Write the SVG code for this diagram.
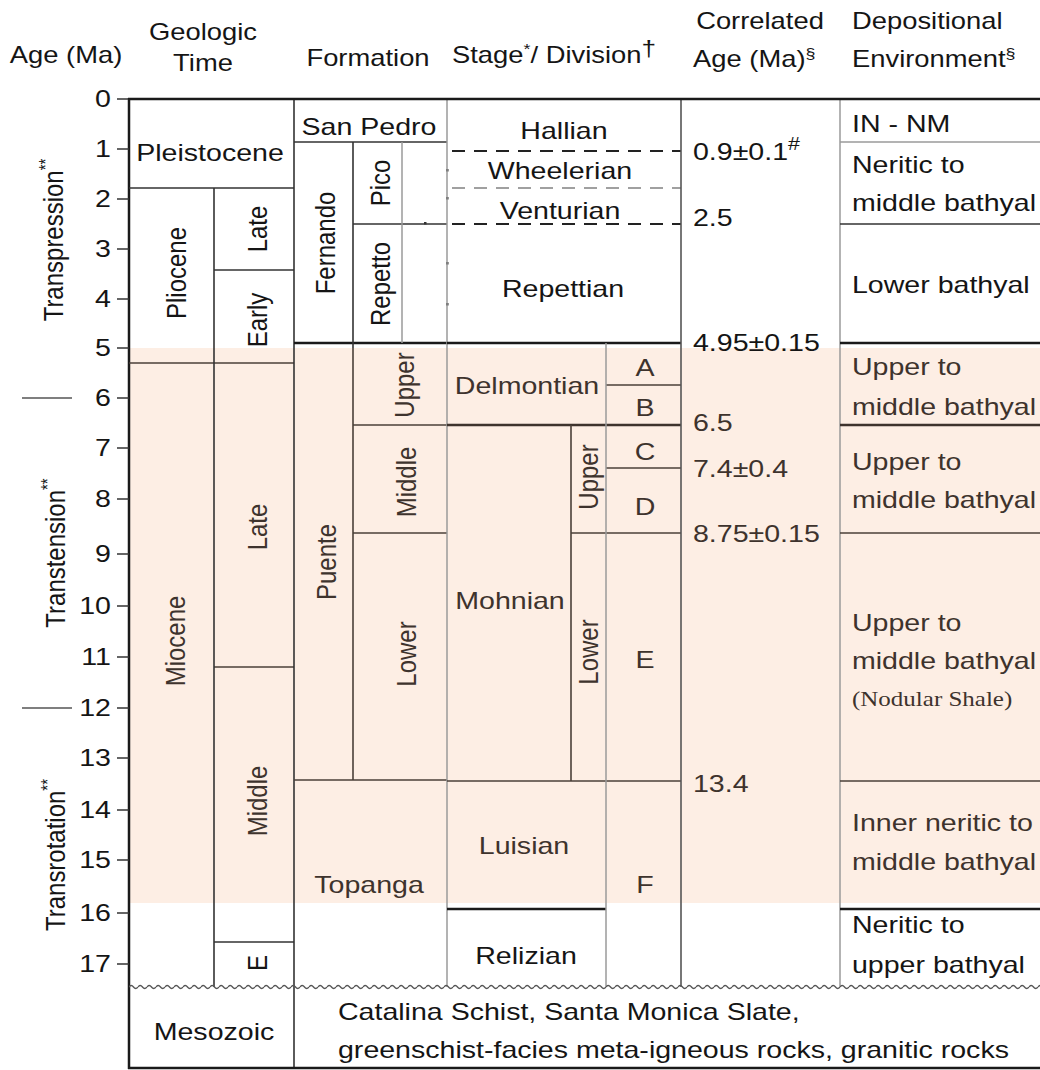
<svg xmlns="http://www.w3.org/2000/svg" width="1040" height="1070" viewBox="0 0 1040 1070">
<defs>
<style>
text{font-family:"Liberation Sans",Arial,sans-serif;font-size:24px;fill:#151515}
text.p{fill:#3e332d}
.m{text-anchor:middle}
.e{text-anchor:end}
.h{font-size:23px}
.sup{font-size:15px}
.serif{font-family:"Liberation Serif","Times New Roman",serif;font-size:21px}
.k{stroke:#1a1a1a;stroke-width:2.5;fill:none}
.kp{stroke:#3e332d;stroke-width:2.5;fill:none}
.n{stroke:#333;stroke-width:1.6;fill:none}
.np{stroke:#4a3f38;stroke-width:1.6;fill:none}
.g{stroke:#9a9a9a;stroke-width:1.5;fill:none}
.dk{stroke:#222;stroke-width:2;stroke-dasharray:13 9;fill:none}
.dg{stroke:#a0a0a0;stroke-width:2;stroke-dasharray:13 9;fill:none}
.tick{stroke:#333;stroke-width:1.5}
</style>
<pattern id="wave" patternUnits="userSpaceOnUse" x="129" y="983" width="9" height="8">
<path d="M0 4 Q2.25 1 4.5 4 T9 4" stroke="#555" stroke-width="1.3" fill="none"/>
</pattern>
</defs>
<rect width="1040" height="1070" fill="#fff"/>
<rect id="miocene-shading" x="129" y="348" width="911" height="555" fill="#fdeee4"/>

<g id="headers">
<text class="h m" transform="matrix(1.19 0 0 1 66 63)">Age (Ma)</text>
<text class="h m" transform="matrix(1.19 0 0 1 203 40)">Geologic</text>
<text class="h m" transform="matrix(1.19 0 0 1 203 71)">Time</text>
<text class="h m" transform="matrix(1.19 0 0 1 368 66)">Formation</text>
<text class="h" transform="matrix(1.19 0 0 1 452 63)">Stage<tspan class="sup" dy="-9">*</tspan><tspan dy="9">/ Division</tspan><tspan font-size="22" dy="-7">†</tspan></text>
<text class="h m" transform="matrix(1.19 0 0 1 760 29)">Correlated</text>
<text class="h" transform="matrix(1.19 0 0 1 693 67)">Age (Ma)<tspan class="sup" dy="-8">§</tspan></text>
<text class="h" transform="matrix(1.19 0 0 1 852 29)">Depositional</text>
<text class="h" transform="matrix(1.19 0 0 1 852 67)">Environment<tspan class="sup" dy="-8">§</tspan></text>
</g>

<g id="axis">
<line class="k" x1="129" y1="98" x2="129" y2="1069"/>
<g class="tick">
<line x1="117" y1="99" x2="129" y2="99"/><line x1="117" y1="149" x2="129" y2="149"/>
<line x1="117" y1="199" x2="129" y2="199"/><line x1="117" y1="249" x2="129" y2="249"/>
<line x1="117" y1="299" x2="129" y2="299"/><line x1="117" y1="348" x2="129" y2="348"/>
<line x1="117" y1="398" x2="129" y2="398"/><line x1="117" y1="448" x2="129" y2="448"/>
<line x1="117" y1="499" x2="129" y2="499"/><line x1="117" y1="554" x2="129" y2="554"/>
<line x1="117" y1="606" x2="129" y2="606"/><line x1="117" y1="657" x2="129" y2="657"/>
<line x1="117" y1="708" x2="129" y2="708"/><line x1="117" y1="758" x2="129" y2="758"/>
<line x1="117" y1="810" x2="129" y2="810"/><line x1="117" y1="860" x2="129" y2="860"/>
<line x1="117" y1="913" x2="129" y2="913"/><line x1="117" y1="964" x2="129" y2="964"/>
</g>
<text class="e" transform="matrix(1.19 0 0 1 111 107)">0</text>
<text class="e" transform="matrix(1.19 0 0 1 111 157)">1</text>
<text class="e" transform="matrix(1.19 0 0 1 111 207)">2</text>
<text class="e" transform="matrix(1.19 0 0 1 111 257)">3</text>
<text class="e" transform="matrix(1.19 0 0 1 111 307)">4</text>
<text class="e" transform="matrix(1.19 0 0 1 111 356)">5</text>
<text class="e" transform="matrix(1.19 0 0 1 111 406)">6</text>
<text class="e" transform="matrix(1.19 0 0 1 111 456)">7</text>
<text class="e" transform="matrix(1.19 0 0 1 111 507)">8</text>
<text class="e" transform="matrix(1.19 0 0 1 111 562)">9</text>
<text class="e" transform="matrix(1.19 0 0 1 111 614)">10</text>
<text class="e" transform="matrix(1.19 0 0 1 111 665)">11</text>
<text class="e" transform="matrix(1.19 0 0 1 111 716)">12</text>
<text class="e" transform="matrix(1.19 0 0 1 111 766)">13</text>
<text class="e" transform="matrix(1.19 0 0 1 111 818)">14</text>
<text class="e" transform="matrix(1.19 0 0 1 111 868)">15</text>
<text class="e" transform="matrix(1.19 0 0 1 111 921)">16</text>
<text class="e" transform="matrix(1.19 0 0 1 111 972)">17</text>
</g>

<g id="tectonics">
<text class="m" transform="matrix(0 -1 1.19 0 53 240)" y="8.5">Transpression<tspan class="sup" dy="-9">**</tspan></text>
<line x1="22" y1="398" x2="72" y2="398" stroke="#555" stroke-width="1.5"/>
<text class="m" transform="matrix(0 -1 1.19 0 55 553)" y="8.5">Transtension<tspan class="sup" dy="-9">**</tspan></text>
<line x1="22" y1="708" x2="72" y2="708" stroke="#555" stroke-width="1.5"/>
<text class="m" transform="matrix(0 -1 1.19 0 55 855)" y="8.5">Transrotation<tspan class="sup" dy="-9">**</tspan></text>
</g>

<g id="geologic-time">
<line class="n" x1="129" y1="188" x2="294" y2="188"/>
<line class="n" x1="214" y1="270" x2="294" y2="270"/>
<line class="np" x1="129" y1="363" x2="294" y2="363"/>
<line class="np" x1="214" y1="667" x2="294" y2="667"/>
<line class="n" x1="214" y1="942" x2="294" y2="942"/>
<line class="n" x1="214" y1="188" x2="214" y2="987"/>
<line class="n" x1="294" y1="99" x2="294" y2="1068"/>
<text class="m" transform="matrix(1.19 0 0 1 210 161)">Pleistocene</text>
<text class="m" transform="matrix(0 -1 1.19 0 176 273)" y="8.5">Pliocene</text>
<text class="m" transform="matrix(0 -1 1.19 0 257 229)" y="8.5">Late</text>
<text class="m" transform="matrix(0 -1 1.19 0 257 320)" y="8.5">Early</text>
<text class="m p" transform="matrix(0 -1 1.19 0 175 641)" y="8.5">Miocene</text>
<text class="m p" transform="matrix(0 -1 1.19 0 257 527)" y="8.5">Late</text>
<text class="m p" transform="matrix(0 -1 1.19 0 257 801)" y="8.5">Middle</text>
<text class="m" transform="matrix(0 -1 1.19 0 257 963)" y="8.5">E</text>
<text class="m" transform="matrix(1.19 0 0 1 214 1040)">Mesozoic</text>
</g>

<g id="formation">
<line class="n" x1="294" y1="142" x2="447" y2="142"/>
<line class="n" x1="353" y1="224" x2="447" y2="224"/>
<line class="k" x1="294" y1="343" x2="447" y2="343"/>
<line class="np" x1="353" y1="425" x2="447" y2="425"/>
<line class="np" x1="353" y1="533" x2="447" y2="533"/>
<line class="np" x1="294" y1="780" x2="447" y2="780"/>
<line class="n" x1="353" y1="142" x2="353" y2="348"/>
<line class="np" x1="353" y1="348" x2="353" y2="780"/>
<line class="g" x1="402" y1="142" x2="402" y2="343"/>
<g fill="#333"><rect x="446" y="169" width="2.5" height="2.5"/><rect x="446" y="197" width="2.5" height="2.5"/><rect x="424" y="222" width="2.5" height="2.5"/><rect x="446" y="262" width="2.5" height="2.5"/><rect x="446" y="303" width="2.5" height="2.5"/></g>
<text class="m" transform="matrix(1.19 0 0 1 369 135)">San Pedro</text>
<text class="m" transform="matrix(0 -1 1.19 0 325 243)" y="8.5">Fernando</text>
<text class="m" transform="matrix(0 -1 1.19 0 380 183)" y="8.5">Pico</text>
<text class="m" transform="matrix(0 -1 1.19 0 380 284)" y="8.5">Repetto</text>
<text class="m p" transform="matrix(0 -1 1.19 0 326 562)" y="8.5">Puente</text>
<text class="m p" transform="matrix(0 -1 1.19 0 404 385)" y="8.5">Upper</text>
<text class="m p" transform="matrix(0 -1 1.19 0 406 482)" y="8.5">Middle</text>
<text class="m p" transform="matrix(0 -1 1.19 0 406 654)" y="8.5">Lower</text>
<text class="m p" transform="matrix(1.19 0 0 1 369 893)">Topanga</text>
</g>

<g id="stage">
<line class="g" x1="447" y1="99" x2="447" y2="987"/>
<line class="dk" x1="452" y1="151" x2="681" y2="151"/>
<line class="dg" x1="452" y1="188" x2="681" y2="188"/>
<line class="dk" x1="452" y1="224" x2="681" y2="224"/>
<line class="k" x1="447" y1="343" x2="681" y2="343"/>
<line class="np" x1="606" y1="385" x2="681" y2="385"/>
<line class="kp" x1="447" y1="425" x2="681" y2="425"/>
<line class="np" x1="606" y1="468" x2="681" y2="468"/>
<line class="np" x1="571" y1="533" x2="681" y2="533"/>
<line class="np" x1="447" y1="781" x2="681" y2="781"/>
<line class="k" x1="447" y1="909" x2="606" y2="909"/>
<line class="g" x1="606" y1="343" x2="606" y2="987"/>
<line class="np" x1="571" y1="425" x2="571" y2="781"/>
<text class="m" transform="matrix(1.19 0 0 1 564 139)">Hallian</text>
<text class="m" transform="matrix(1.19 0 0 1 560 179)">Wheelerian</text>
<text class="m" transform="matrix(1.19 0 0 1 560 219)">Venturian</text>
<text class="m" transform="matrix(1.19 0 0 1 563 297)">Repettian</text>
<text class="m p" transform="matrix(1.19 0 0 1 527 394)">Delmontian</text>
<text class="m p" transform="matrix(1.19 0 0 1 645 376)">A</text>
<text class="m p" transform="matrix(1.19 0 0 1 645 416)">B</text>
<text class="m p" transform="matrix(1.19 0 0 1 645 460)">C</text>
<text class="m p" transform="matrix(1.19 0 0 1 645 515)">D</text>
<text class="m p" transform="matrix(1.19 0 0 1 645 668)">E</text>
<text class="m p" transform="matrix(1.19 0 0 1 645 893)">F</text>
<text class="m p" transform="matrix(0 -1 1.19 0 588 477)" y="8.5">Upper</text>
<text class="m p" transform="matrix(0 -1 1.19 0 588 652)" y="8.5">Lower</text>
<text class="m p" transform="matrix(1.19 0 0 1 510 609)">Mohnian</text>
<text class="m p" transform="matrix(1.19 0 0 1 524 854)">Luisian</text>
<text class="m" transform="matrix(1.19 0 0 1 526 964)">Relizian</text>
</g>

<g id="correlated-age">
<line x1="681" y1="99" x2="681" y2="987" stroke="#555" stroke-width="1.6"/>
<text transform="matrix(1.19 0 0 1 693 160)">0.9±0.1<tspan font-size="18" dy="-10">#</tspan></text>
<text transform="matrix(1.19 0 0 1 693 226)">2.5</text>
<text transform="matrix(1.19 0 0 1 693 351)">4.95±0.15</text>
<text class="p" transform="matrix(1.19 0 0 1 693 431)">6.5</text>
<text class="p" transform="matrix(1.19 0 0 1 693 477)">7.4±0.4</text>
<text class="p" transform="matrix(1.19 0 0 1 693 542)">8.75±0.15</text>
<text class="p" transform="matrix(1.19 0 0 1 693 792)">13.4</text>
</g>

<g id="depositional-environment">
<line class="g" x1="840" y1="99" x2="840" y2="987"/>
<line class="g" x1="840" y1="142" x2="1040" y2="142"/>
<line class="n" x1="840" y1="224" x2="1040" y2="224"/>
<line class="k" x1="840" y1="343" x2="1040" y2="343"/>
<line class="kp" x1="840" y1="425" x2="1040" y2="425"/>
<line class="np" x1="840" y1="533" x2="1040" y2="533"/>
<line class="np" x1="840" y1="781" x2="1040" y2="781"/>
<line class="k" x1="840" y1="909" x2="1040" y2="909"/>
<text transform="matrix(1.19 0 0 1 852 132)">IN - NM</text>
<text transform="matrix(1.19 0 0 1 852 173)">Neritic to</text>
<text transform="matrix(1.19 0 0 1 852 211)">middle bathyal</text>
<text transform="matrix(1.19 0 0 1 852 293)">Lower bathyal</text>
<text class="p" transform="matrix(1.19 0 0 1 852 375)">Upper to</text>
<text class="p" transform="matrix(1.19 0 0 1 852 415)">middle bathyal</text>
<text class="p" transform="matrix(1.19 0 0 1 852 470)">Upper to</text>
<text class="p" transform="matrix(1.19 0 0 1 852 508)">middle bathyal</text>
<text class="p" transform="matrix(1.19 0 0 1 852 631)">Upper to</text>
<text class="p" transform="matrix(1.19 0 0 1 852 669)">middle bathyal</text>
<text class="serif p" transform="matrix(1.19 0 0 1 852 706)">(Nodular Shale)</text>
<text class="p" transform="matrix(1.19 0 0 1 852 831)">Inner neritic to</text>
<text class="p" transform="matrix(1.19 0 0 1 852 870)">middle bathyal</text>
<text transform="matrix(1.19 0 0 1 852 933)">Neritic to</text>
<text transform="matrix(1.19 0 0 1 852 973)">upper bathyal</text>
</g>

<g id="basement">
<rect x="129" y="983" width="911" height="8" fill="url(#wave)"/>
<text transform="matrix(1.19 0 0 1 338 1020)">Catalina Schist, Santa Monica Slate,</text>
<text transform="matrix(1.19 0 0 1 338 1058)">greenschist-facies meta-igneous rocks, granitic rocks</text>
</g>

<g id="frame">
<line class="k" x1="128" y1="99" x2="1040" y2="99" stroke-width="3"/>
<line class="k" x1="128" y1="1068" x2="1040" y2="1068" stroke-width="3"/>
</g>
</svg>
